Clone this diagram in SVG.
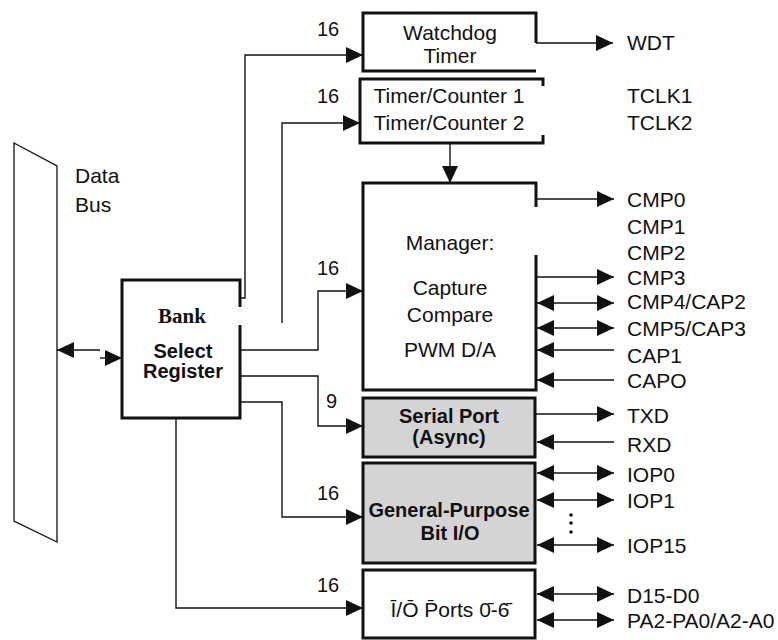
<svg xmlns="http://www.w3.org/2000/svg" width="778" height="640" viewBox="0 0 778 640">
<defs>
<marker id="ah" markerUnits="userSpaceOnUse" markerWidth="17" markerHeight="16" refX="17" refY="8" orient="auto-start-reverse" viewBox="0 0 17 16">
<path d="M0,0 L17,8 L0,16 z" fill="#111"/>
</marker>
<style>
text{font-family:"Liberation Sans",Arial,sans-serif;font-size:21px;fill:#111}
.c{text-anchor:middle}
.b{font-weight:bold;font-size:20px}
.lbl{font-size:20px}
.serif{font-family:"Liberation Serif","Times New Roman",serif;font-weight:bold;font-size:21px}
.box{stroke:#111;stroke-width:3;fill:#fff}
.gray{fill:#d4d4d4}
.ln{stroke:#111;stroke-width:1.4;fill:none}
.a{marker-end:url(#ah)}
.d{marker-start:url(#ah);marker-end:url(#ah)}
</style>
</defs>
<rect width="778" height="640" fill="#fff"/>

<g id="databus">
<polygon points="14,143 57,166 57,542 14,521" fill="#fff" stroke="#111" stroke-width="1.3"/>
<text x="75" y="183">Data</text>
<text x="75" y="212">Bus</text>
</g>

<g id="bank">
<rect x="122" y="280" width="118" height="138" fill="#d8d8d8"/>
<rect x="130" y="288" width="102" height="118" fill="#f0f0f0"/>
<path class="box" d="M240,307 V280 H122 V418 H240 V325" fill="none"/>
<text class="serif c" x="182" y="323">Bank</text>
<text class="b c" x="183" y="358">Select</text>
<text class="b c" x="183" y="378">Register</text>
</g>

<g id="watchdog">
<rect x="363" y="13" width="173" height="58" fill="#fff"/>
<path class="box" d="M536,43 V13 H363 V71 H536" fill="none"/>
<text class="c" x="450" y="40">Watchdog</text>
<text class="c" x="450" y="63">Timer</text>
</g>

<g id="timers">
<rect x="360" y="79" width="183" height="64" fill="#fff"/>
<path class="box" d="M543,86 V79 H360 V143 H543 V135" fill="none"/>
<text class="c" x="449" y="103">Timer/Counter 1</text>
<text class="c" x="449" y="130">Timer/Counter 2</text>
</g>

<g id="manager">
<rect x="363" y="183" width="173" height="207" fill="#fff"/>
<path class="box" d="M536,207 V183 H363 V390 H536 V255" fill="none"/>
<text class="c" x="450" y="250">Manager:</text>
<text class="c" x="450" y="295">Capture</text>
<text class="c" x="450" y="322">Compare</text>
<text class="c" x="450" y="357">PWM D/A</text>
</g>

<g id="serial">
<rect class="box gray" x="363" y="398" width="172" height="59"/>
<text class="b c" x="449" y="423">Serial Port</text>
<text class="b c" x="449" y="444">(Async)</text>
</g>

<g id="gpio">
<rect class="box gray" x="363" y="463" width="172" height="100"/>
<text class="b c" x="449" y="517">General-Purpose</text>
<text class="b c" x="450" y="540">Bit I/O</text>
</g>

<g id="ioports">
<rect class="box" x="363" y="570" width="172" height="68"/>
<text class="c" x="450" y="617">Ī/Ō P̄orts 0̄-6̄</text>
</g>

<g id="connectors">
<path class="ln a" d="M100,350 H57"/>
<path class="ln a" d="M100,358 H122"/>
<path class="ln a" d="M240,298 H245 V55 H363"/>
<path class="ln a" d="M282,323 V123 H360"/>
<path class="ln a" d="M450,143 V183"/>
<path class="ln a" d="M240,350 H318 V291 H363"/>
<path class="ln a" d="M240,376 H318 V426 H363"/>
<path class="ln a" d="M240,402 H282 V517 H363"/>
<path class="ln a" d="M176,418 V608 H363"/>
<path class="ln a" d="M536,43 H613"/>
<path class="ln a" d="M536,199 H614"/>
<path class="ln a" d="M536,277 H614"/>
<path class="ln d" d="M537,303 H614"/>
<path class="ln d" d="M537,328 H614"/>
<path class="ln a" d="M614,350 H537"/>
<path class="ln a" d="M614,380 H537"/>
<path class="ln a" d="M535,414 H614"/>
<path class="ln a" d="M614,442 H537"/>
<path class="ln d" d="M537,473 H614"/>
<path class="ln d" d="M537,500 H614"/>
<path class="ln d" d="M537,545 H614"/>
<path class="ln d" d="M537,594 H614"/>
<path class="ln d" d="M537,620 H614"/>
<circle cx="571" cy="515" r="1.8" fill="#111"/>
<circle cx="571" cy="523" r="1.8" fill="#111"/>
<circle cx="571" cy="532" r="1.8" fill="#111"/>
</g>

<g id="labels">
<text class="lbl" x="317" y="36">16</text>
<text class="lbl" x="317" y="103">16</text>
<text class="lbl" x="317" y="275">16</text>
<text class="lbl" x="326" y="408">9</text>
<text class="lbl" x="317" y="500">16</text>
<text class="lbl" x="317" y="592">16</text>
<text x="627" y="50">WDT</text>
<text x="627" y="103">TCLK1</text>
<text x="627" y="130">TCLK2</text>
<text x="627" y="207">CMP0</text>
<text x="627" y="234">CMP1</text>
<text x="627" y="260">CMP2</text>
<text x="627" y="285">CMP3</text>
<text x="627" y="309">CMP4/CAP2</text>
<text x="627" y="336">CMP5/CAP3</text>
<text x="627" y="363">CAP1</text>
<text x="627" y="388">CAPO</text>
<text x="627" y="423">TXD</text>
<text x="627" y="452">RXD</text>
<text x="627" y="482">IOP0</text>
<text x="627" y="508">IOP1</text>
<text x="627" y="553">IOP15</text>
<text x="627" y="603">D15-D0</text>
<text x="627" y="628">PA2-PA0/A2-A0</text>
</g>
</svg>
